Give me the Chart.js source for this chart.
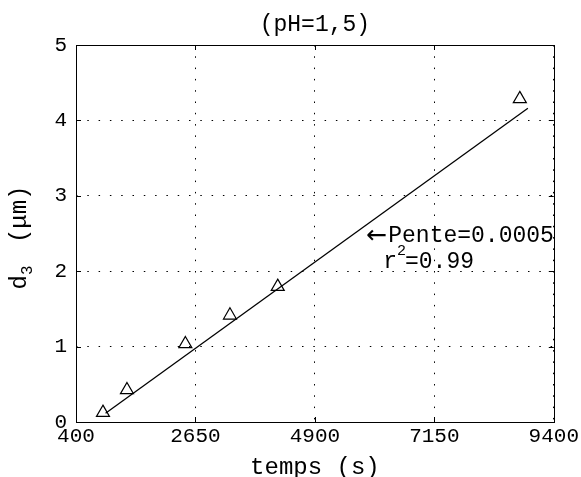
<!DOCTYPE html>
<html>
<head>
<meta charset="utf-8">
<script src="https://cdn.jsdelivr.net/npm/chart.js@4.4.6/dist/chart.umd.min.js"></script>
<style>
  html, body { margin: 0; padding: 0; background: #fff; }
  #boite { width: 581px; height: 477px; }
</style>
</head>
<body>
<div id="boite"><canvas id="grafica"></canvas></div>
<script>
const tempsMesures = [908, 1360, 2460, 3300, 4200, 8760];
const d3Mesures = [0.125, 0.425, 1.035, 1.415, 1.795, 4.285];
const tempsAjuste = [957, 8912];
const d3Ajuste = [0.115, 4.16];
const ticksTemps = [400, 2650, 4900, 7150, 9400];
const ticksD3 = [0, 1, 2, 3, 4, 5];
const titre = "(pH=1,5)";
const titreX = "temps (s)";
const fleche = "\u2190";
const pente = "Pente=0.0005";
const r2 = "=0.99";

const police = "'Liberation Mono', 'Courier New', monospace";

const cadre = {
    id: 'cadre',
    beforeDraw(chart) {
        const ctx = chart.ctx;
        ctx.save();
        ctx.fillStyle = '#fff';
        ctx.fillRect(0, 0, chart.width, chart.height);
        ctx.restore();
    },
    afterDatasetsDraw(chart) {
        const ctx = chart.ctx;
        const x = chart.scales.x, y = chart.scales.y;
        const a = chart.chartArea;
        ctx.save();
        ctx.strokeStyle = '#000';
        ctx.lineWidth = 1;
        ctx.strokeRect(Math.round(a.left) + 0.5, Math.round(a.top) + 0.5,
            Math.round(a.right - a.left), Math.round(a.bottom - a.top));
        // petits traits vers l'interieur
        ctx.beginPath();
        ticksTemps.forEach(v => {
            const px = Math.round(x.getPixelForValue(v)) + 0.5;
            ctx.moveTo(px, a.bottom); ctx.lineTo(px, a.bottom - 5);
            ctx.moveTo(px, a.top); ctx.lineTo(px, a.top + 5);
        });
        ticksD3.forEach(v => {
            const py = Math.round(y.getPixelForValue(v)) + 0.5;
            ctx.moveTo(a.left, py); ctx.lineTo(a.left + 5, py);
            ctx.moveTo(a.right, py); ctx.lineTo(a.right - 5, py);
        });
        ctx.stroke();

        ctx.fillStyle = '#000';
        ctx.textBaseline = 'middle';

        // titre centre sur la zone du graphique
        ctx.textAlign = 'center';
        ctx.font = '23px ' + police;
        ctx.fillText(titre, (a.left + a.right) / 2, 25);

        // annotation pente et r2
        ctx.textAlign = 'left';
        const ax = x.getPixelForValue(5868), ay = y.getPixelForValue(2.47);
        ctx.font = '25px "DejaVu Sans"';
        ctx.fillText(fleche, ax, ay + 1);
        const wf = ctx.measureText(fleche).width;
        ctx.font = '23px ' + police;
        ctx.fillText(pente, ax + wf + 1, ay);
        const rx = x.getPixelForValue(6186), ry = y.getPixelForValue(2.12);
        ctx.fillText('r', rx, ry);
        const wr = ctx.measureText('r').width;
        ctx.font = '15px ' + police;
        ctx.fillText('2', rx + wr, ry - 11);
        const w2 = ctx.measureText('2').width;
        ctx.font = '23px ' + police;
        ctx.fillText(r2, rx + wr + w2 - 1, ry);

        // titre de l'axe y avec indice
        ctx.translate(20, (a.top + a.bottom) / 2 + 4);
        ctx.rotate(-Math.PI / 2);
        ctx.font = '24px ' + police;
        const wd = ctx.measureText('d').width;
        const wreste = ctx.measureText(' (\u03bcm)').width;
        ctx.font = '16px ' + police;
        const wi = ctx.measureText('3').width;
        const total = wd + wi + 8 + wreste;
        let cx = -total / 2;
        ctx.font = '24px ' + police;
        ctx.fillText('d', cx, 0);
        cx += wd;
        ctx.font = '16px ' + police;
        ctx.fillText('3', cx, 8);
        cx += wi + 8;
        ctx.font = '24px ' + police;
        ctx.fillText(' (\u03bcm)', cx, 0);
        ctx.restore();
    }
};

const ctx = document.getElementById('grafica').getContext('2d');
new Chart(ctx, {
    type: 'scatter',
    data: {
        datasets: [
            {
                label: 'ajuste',
                data: tempsAjuste.map((t, i) => ({ x: t, y: d3Ajuste[i] })),
                showLine: true,
                borderColor: '#000',
                borderWidth: 1.3,
                pointRadius: 0,
                fill: false
            },
            {
                label: 'mesures',
                data: tempsMesures.map((t, i) => ({ x: t, y: d3Mesures[i] })),
                pointStyle: 'triangle',
                pointRadius: 7.5,
                pointBorderColor: '#000',
                pointBackgroundColor: 'rgba(0,0,0,0)',
                pointBorderWidth: 1.2,
                showLine: false
            }
        ]
    },
    options: {
        responsive: true,
        maintainAspectRatio: false,
        animation: false,
        layout: { padding: { left: 0, right: 24, top: 45, bottom: 0 } },
        plugins: {
            legend: { display: false },
            tooltip: { enabled: false },
            title: { display: false }
        },
        scales: {
            x: {
                type: 'linear',
                min: 400,
                max: 9400,
                afterBuildTicks: s => { s.ticks = ticksTemps.map(v => ({ value: v })); },
                afterFit: s => { s.height = 55; },
                ticks: {
                    color: '#000',
                    font: { family: police, size: 21 },
                    padding: 2,
                    maxRotation: 0,
                    callback: v => String(v)
                },
                grid: { color: '#000', lineWidth: 1, drawTicks: false },
                border: { display: false, dash: [1.5, 9.8] },
                title: {
                    display: true,
                    text: titreX,
                    color: '#000',
                    font: { family: police, size: 24, lineHeight: 0.8 },
                    padding: { top: 0, bottom: 0 }
                }
            },
            y: {
                type: 'linear',
                min: 0,
                max: 5,
                afterBuildTicks: s => { s.ticks = ticksD3.map(v => ({ value: v })); },
                afterFit: s => { s.width = 76; },
                ticks: {
                    color: '#000',
                    font: { family: police, size: 21 },
                    padding: 9,
                    callback: v => String(v)
                },
                grid: { color: '#000', lineWidth: 1, drawTicks: false },
                border: { display: false, dash: [1.5, 9.8] }
            }
        }
    },
    plugins: [cadre]
});
</script>
</body>
</html>
